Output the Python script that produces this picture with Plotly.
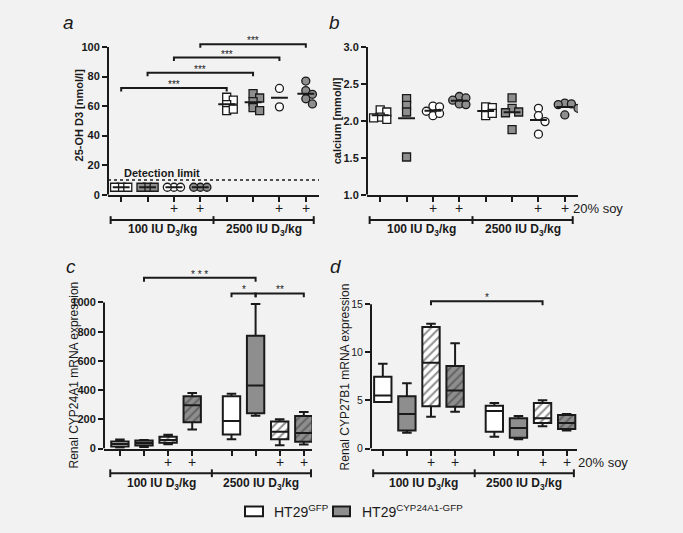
import numpy as np
import plotly.graph_objects as go

# ---------------- data ----------------
GROUP_CELL = ["GFP", "CYP", "GFP", "CYP", "GFP", "CYP", "GFP", "CYP"]
GROUP_SOY = [False, False, True, True, False, False, True, True]
DOSE_LABELS = ["100 IU D<sub>3</sub>/kg", "2500 IU D<sub>3</sub>/kg"]
LEGEND_LABELS = ["HT29<sup>GFP</sup>", "HT29<sup>CYP24A1-GFP</sup>"]

# panel a: 25-OH D3 [nmol/l]
A_VALUES = [
    [5, 5, 5],
    [5, 5, 5],
    [5, 5, 5],
    [5, 5, 5],
    [66, 64, 61, 57, 58],
    [68.5, 65.5, 63, 59, 57],
    [72, 59.5],
    [77, 70.5, 68, 65, 61.5],
]
DETECTION_LIMIT = 10

# panel b: calcium [mmol/l]
B_VALUES = [
    [2.15, 2.12, 2.05, 2.02, 2.04],
    [2.30, 2.21, 2.12, 1.51],
    [2.20, 2.19, 2.13, 2.07, 2.10],
    [2.33, 2.31, 2.28, 2.23, 2.22],
    [2.19, 2.18, 2.07, 2.10],
    [2.31, 2.17, 2.12, 2.11, 1.88],
    [2.17, 2.07, 1.99, 1.82],
    [2.24, 2.23, 2.22, 2.17, 2.08],
]

# panel c: Renal CYP24A1 mRNA expression (box stats)
C_MIN = [5, 10, 29, 130, 63, 225, 22, 27]
C_Q1 = [13, 20, 40, 179, 96, 241, 63, 47]
C_MED = [30, 38, 58, 297, 188, 431, 114, 107]
C_Q3 = [48, 55, 80, 357, 357, 772, 185, 223]
C_MAX = [62, 58, 94, 380, 375, 989, 201, 250]

# panel d: Renal CYP27B1 mRNA expression (box stats)
D_MIN = [4.84, 1.63, 3.3, 3.83, 1.22, 0.95, 2.3, 1.86]
D_Q1 = [4.84, 1.86, 4.4, 4.33, 1.73, 1.12, 2.64, 2.03]
D_MED = [5.52, 3.59, 8.9, 6.03, 3.9, 2.13, 3.15, 2.64]
D_Q3 = [7.45, 5.42, 12.63, 8.57, 4.45, 3.15, 4.74, 3.49]
D_MAX = [8.8, 6.77, 12.97, 10.94, 4.74, 3.39, 5.01, 3.59]

# significance brackets: (from group, to group, level, label)
A_SIG = [(0, 4, 72.2, "***"), (1, 5, 82.6, "***"), (2, 6, 92.9, "***"), (3, 7, 101.9, "***")]
C_SIG = [(1, 5, 1169, "* * *"), (4, 5, 1062, "*"), (5, 7, 1062, "**")]
D_SIG = [(2, 6, 15.3, "*")]

A_TICKS = [0, 20, 40, 60, 80, 100]
B_TICKS = [1.0, 1.5, 2.0, 2.5, 3.0]
C_TICKS = [0, 200, 400, 600, 800, 1000]
D_TICKS = [0, 5, 10, 15]

# ---------------- style ----------------
W, H = 683, 533
INK = "#1a1a1a"
GRAY = "#8e8e8e"
WHITE = "#ffffff"
BG = "#f2f2f2"
FONT = "Liberation Sans, Arial, sans-serif"
CELL_FILL = {"GFP": WHITE, "CYP": GRAY}
HATCH_FG = {"GFP": "#222222", "CYP": "#3a3a3a"}

GAP = 0.63
POS_AB = [float(i) for i in range(8)]
POS_CD = [i + (GAP if i >= 4 else 0.0) for i in range(8)]


def px_x(p):
    return p / W


def px_y(p):
    return 1 - p / H


PANELS = {
    "a": dict(ax="", xpx=(108, 319), ypx=(193, 34.5), xr=(-0.5, 7.5), yr=(0, 105), top=100,
              ticks=A_TICKS, fmt="d", tfont=dict(size=11, weight="bold"), pos=POS_AB),
    "b": dict(ax="2", xpx=(367, 578), ypx=(193, 42), xr=(-0.5, 7.5), yr=(1, 3), top=3,
              ticks=B_TICKS, fmt=".1f", tfont=dict(size=11, weight="bold"), pos=POS_AB),
    "c": dict(ax="3", xpx=(104, 312), ypx=(452.7, 273.4), xr=(-0.66, 7.97), yr=(0, 1200), top=1000,
              ticks=C_TICKS, fmt="d", tfont=dict(size=11, weight="bold"), pos=POS_CD),
    "d": dict(ax="4", xpx=(371, 577), ypx=(452.7, 295.2), xr=(-0.49, 8.06), yr=(0, 16), top=15,
              ticks=D_TICKS, fmt="d", tfont=dict(size=10.5, weight="normal"), pos=POS_CD),
}

fig = go.Figure()
shapes = []
annotations = []
layout_axes = {}


def note(**kw):
    kw.setdefault("xanchor", "center")
    kw.setdefault("yanchor", "middle")
    kw.setdefault("showarrow", False)
    annotations.append(kw)


for key, p in PANELS.items():
    xa = "xaxis" + p["ax"]
    ya = "yaxis" + p["ax"]
    layout_axes[xa] = dict(
        domain=[px_x(p["xpx"][0]), px_x(p["xpx"][1])], range=list(p["xr"]),
        anchor="y" + p["ax"], tickvals=p["pos"], ticks="outside", ticklen=5, tickwidth=1.5,
        tickcolor=INK, showticklabels=False, showline=True, linewidth=2, linecolor=INK,
        showgrid=False, zeroline=False, fixedrange=True,
    )
    layout_axes[ya] = dict(
        domain=[px_y(p["ypx"][0]), px_y(p["ypx"][1])], range=list(p["yr"]),
        anchor="x" + p["ax"], tickvals=p["ticks"], tickformat=p["fmt"], ticks="outside",
        ticklen=5, tickwidth=2, tickcolor=INK, showline=False, showgrid=False, zeroline=False,
        tickfont=dict(family=FONT, color=INK, **p["tfont"]), fixedrange=True,
    )
    # y axis line only up to the last tick
    shapes.append(dict(type="line", xref="x" + p["ax"] + " domain", yref="y" + p["ax"],
                       x0=0, x1=0, y0=p["yr"][0], y1=p["top"], line=dict(color=INK, width=2)))


# ---------------- dot plots (a, b) ----------------
def swarm(vals, ytol, step):
    placed, offs = [], []
    for v in vals:
        o = 0.0
        for k in [0, 1, -1, 2, -2, 3, -3]:
            o = k * step
            if all(abs(o - po) >= step * 0.999 or abs(v - pv) >= ytol for po, pv in placed):
                break
        placed.append((o, v))
        offs.append(o)
    return offs


for key, values, ytol in (("a", A_VALUES, 4.0), ("b", B_VALUES, 0.08)):
    p = PANELS[key]
    for i, vals in enumerate(values):
        pos = p["pos"][i]
        offs = swarm(vals, ytol, 0.25)
        symbol = "circle" if GROUP_SOY[i] else "square"
        fig.add_trace(go.Scatter(
            x=[pos + o for o in offs], y=vals, mode="markers",
            marker=dict(symbol=symbol, size=8, color=CELL_FILL[GROUP_CELL[i]],
                        line=dict(color=INK, width=1.3)),
            xaxis="x" + p["ax"], yaxis="y" + p["ax"], showlegend=False, hoverinfo="y",
        ))
        m = float(np.mean(vals))
        fig.add_trace(go.Scatter(
            x=[pos - 0.32, pos + 0.32], y=[m, m], mode="lines",
            line=dict(color=INK, width=2), xaxis="x" + p["ax"], yaxis="y" + p["ax"],
            showlegend=False, hoverinfo="skip",
        ))

# detection limit in a
shapes.append(dict(type="line", xref="x domain", yref="y", x0=0, x1=1,
                   y0=DETECTION_LIMIT, y1=DETECTION_LIMIT, line=dict(color=INK, width=1.5, dash="dot")))
note(xref="x domain", yref="y", x=0.256, y=DETECTION_LIMIT, yanchor="bottom", yshift=-1,
     text="<b>Detection limit</b>", font=dict(family=FONT, size=11, color=INK))

# ---------------- box plots (c, d) ----------------
for key, mn, q1, med, q3, mx in (("c", C_MIN, C_Q1, C_MED, C_Q3, C_MAX),
                                  ("d", D_MIN, D_Q1, D_MED, D_Q3, D_MAX)):
    p = PANELS[key]
    for i in range(8):
        pos = p["pos"][i]
        fill = CELL_FILL[GROUP_CELL[i]]
        hatched = GROUP_SOY[i]
        if hatched:
            fig.add_trace(go.Bar(
                x=[pos], y=[q3[i] - q1[i]], base=[q1[i]], width=0.72,
                marker=dict(color=fill, line=dict(width=0),
                            pattern=dict(shape="/", fgcolor=HATCH_FG[GROUP_CELL[i]], bgcolor=fill,
                                         size=6, solidity=0.35)),
                xaxis="x" + p["ax"], yaxis="y" + p["ax"], showlegend=False, hoverinfo="skip",
            ))
        fig.add_trace(go.Box(
            x=[pos], q1=[q1[i]], median=[med[i]], q3=[q3[i]],
            lowerfence=[mn[i]], upperfence=[mx[i]], width=0.72, whiskerwidth=0.55,
            fillcolor="rgba(0,0,0,0)" if hatched else fill,
            line=dict(color=INK, width=2), boxpoints=False,
            xaxis="x" + p["ax"], yaxis="y" + p["ax"], showlegend=False,
        ))

# ---------------- significance brackets ----------------
for key, sig, drop in (("a", A_SIG, 2.3), ("c", C_SIG, 27), ("d", D_SIG, 0.4)):
    p = PANELS[key]
    for g0, g1, lvl, lab in sig:
        x0, x1 = p["pos"][g0], p["pos"][g1]
        fig.add_trace(go.Scatter(
            x=[x0, x0, x1, x1], y=[lvl - drop, lvl, lvl, lvl - drop], mode="lines",
            line=dict(color=INK, width=2), xaxis="x" + p["ax"], yaxis="y" + p["ax"],
            showlegend=False, hoverinfo="skip",
        ))
        note(xref="x" + p["ax"], yref="y" + p["ax"], x=(x0 + x1) / 2, y=lvl,
             yanchor="bottom", yshift=-4, text=lab, font=dict(family=FONT, size=10, color=INK))

# ---------------- soy row, dose brackets ----------------
ROWS = {"a": (207, 219, 229), "b": (207, 219, 229), "c": (467, 478, 489), "d": (467, 478, 489)}
for key, p in PANELS.items():
    plus_y, br_y, lab_y = ROWS[key]
    xr = "x" + p["ax"]
    for i, soy in enumerate(GROUP_SOY):
        if soy:
            note(xref=xr, yref="paper", x=p["pos"][i], y=px_y(plus_y), text="+",
                 font=dict(family=FONT, size=14, color=INK))
    left = p["pos"][0] - 0.4
    mid = (p["pos"][3] + p["pos"][4]) / 2
    right = p["pos"][7] + 0.3
    shapes.append(dict(type="line", xref=xr, yref="paper", x0=left, x1=right,
                       y0=px_y(br_y), y1=px_y(br_y), line=dict(color=INK, width=2)))
    for xx in (left, mid, right):
        shapes.append(dict(type="line", xref=xr, yref="paper", x0=xx, x1=xx,
                           y0=px_y(br_y - 4), y1=px_y(br_y + 4), line=dict(color=INK, width=2)))
    for lab, (xa0, xa1) in zip(DOSE_LABELS, ((left, mid), (mid, right))):
        note(xref=xr, yref="paper", x=(xa0 + xa1) / 2, y=px_y(lab_y),
             text="<b>" + lab + "</b>", font=dict(family=FONT, size=12, color=INK))

for xp, yp in ((571, 207), (576, 467)):
    note(xref="paper", yref="paper", x=px_x(xp), y=px_y(yp), xanchor="left",
         text="20% soy", font=dict(family=FONT, size=13, color=INK))

# ---------------- titles & panel letters ----------------
TITLES = [
    ("<b>25-OH D3 [nmol/l]</b>", 79, 112, 11),
    ("<b>calcium [mmol/l]</b>", 337, 118, 11),
    ("Renal CYP24A1 mRNA expression", 74, 378, 12),
    ("Renal CYP27B1 mRNA expression", 345, 380, 12),
]
for txt, xp, yp, fs in TITLES:
    note(xref="paper", yref="paper", x=px_x(xp), y=px_y(yp), textangle=-90,
         text=txt, font=dict(family=FONT, size=fs, color=INK))

for lab, xp, yp in (("a", 68, 17), ("b", 334, 17), ("c", 71, 267), ("d", 336, 267)):
    note(xref="paper", yref="paper", x=px_x(xp), y=px_y(yp), text=lab,
         font=dict(family=FONT, size=19, color=INK, style="italic"))

# ---------------- legend ----------------
for (bx0, bx1, tx), cell, lab in zip(((245, 263, 272), (333, 350, 360)), ("GFP", "CYP"), LEGEND_LABELS):
    shapes.append(dict(type="rect", xref="paper", yref="paper", x0=px_x(bx0), x1=px_x(bx1),
                       y0=px_y(522), y1=px_y(512), fillcolor=CELL_FILL[cell],
                       line=dict(color=INK, width=2)))
    note(xref="paper", yref="paper", x=px_x(tx), y=px_y(517), xanchor="left",
         text=lab, font=dict(family=FONT, size=14, color=INK))

fig.update_layout(
    width=W, height=H, margin=dict(l=0, r=0, t=0, b=0),
    paper_bgcolor=BG, plot_bgcolor=BG, showlegend=False, barmode="overlay",
    font=dict(family=FONT, color=INK), shapes=shapes, annotations=annotations,
    **layout_axes,
)

fig.write_html("out.html", post_script="document.body.style.margin='0px';",
               config={"displayModeBar": False})
